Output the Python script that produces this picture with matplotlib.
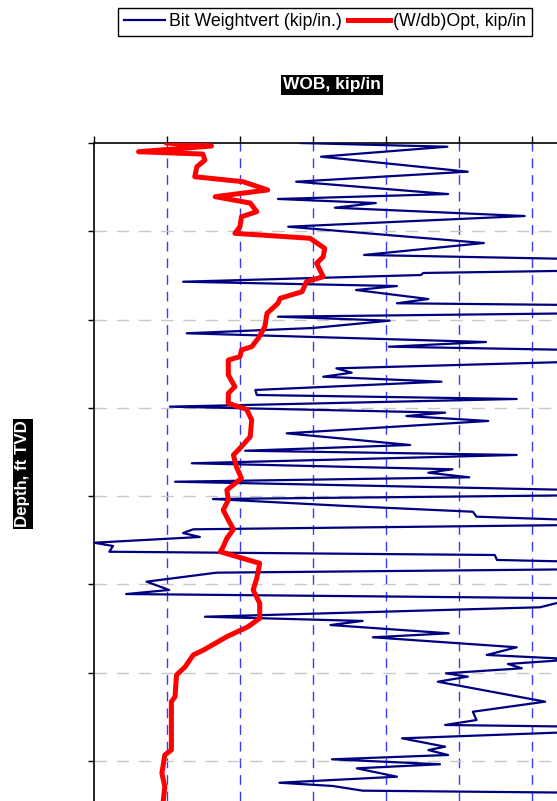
import matplotlib.pyplot as plt

plt.rcParams['font.family'] = ['Liberation Sans', 'DejaVu Sans']

# Bit weight (vertical), kip/in. vs depth, ft TVD
bit_depth = [0, 42, 155, 325, 438, 578, 634, 680, 733, 827, 948, 1133, 1268, 1314,
             1446, 1472, 1495, 1571, 1620, 1665, 1767, 1815, 1835, 1929, 1967, 2012,
             2095, 2155, 2254, 2307, 2344, 2477, 2552, 2601, 2647, 2703, 2797, 2854,
             2899, 2986, 3054, 3092, 3148, 3288, 3420, 3485, 3533, 3627, 3695, 3734,
             3786, 3836, 3930, 3990, 4032, 4111, 4176, 4232, 4270, 4326, 4375, 4417,
             4462, 4527, 4564, 4629, 4666, 4722, 4742, 4828, 4866, 4968, 5062, 5108,
             5156, 5258, 5365, 5413, 5459, 5553, 5598, 5711, 5798, 5847, 5900, 5949,
             6006, 6044, 6101, 6327, 6441, 6535, 6591, 6610, 6670, 6742, 6837, 6875,
             6931, 6980, 7036, 7082, 7177, 7245, 7282, 7335, 7358, 7500]
bit_wob = [2.82, 4.84, 3.11, 5.12, 2.77, 4.85, 2.52, 3.86, 3.30, 5.90, 2.66, 5.34, 3.70, 6.6,
           6.6, 4.51, 4.48, 1.22, 4.15, 3.59, 4.58, 4.15, 6.6, 6.6, 2.52, 4.05,
           3.00, 1.27, 5.37, 4.04, 6.6, 6.6, 3.32, 3.53, 3.14, 4.76, 2.21, 2.23,
           5.79, 1.04, 4.81, 4.28, 5.40, 2.64, 4.33, 2.07, 5.79, 1.34, 4.91, 4.58,
           5.14, 1.11, 6.6, 6.6, 1.63, 3.46, 5.19, 5.24, 6.6, 6.6, 1.36, 1.22,
           1.45, 0.0, 0.26, 0.21, 5.49, 5.52, 6.6, 6.6, 1.68, 0.72, 1.03, 0.44,
           6.6, 6.11, 1.52, 3.68, 3.24, 4.86, 3.82, 5.79, 5.38, 6.6, 5.67, 5.86,
           4.82, 5.12, 4.71, 6.18, 5.19, 5.24, 4.81, 6.6, 6.6, 4.22, 4.81, 4.58,
           4.85, 3.26, 4.74, 3.60, 4.15, 2.54, 3.27, 3.68, 6.6, 6.6]

# optimum (W/db), kip/in vs depth
opt_depth = [0, 34, 99, 125, 193, 268, 382, 438, 532, 608, 680, 778, 835, 948, 1023,
             1079, 1193, 1288, 1362, 1514, 1571, 1684, 1759, 1815, 1929, 2080, 2212,
             2307, 2344, 2420, 2458, 2627, 2760, 2835, 2948, 3016, 3137, 3326, 3439,
             3533, 3666, 3797, 3930, 4043, 4156, 4270, 4375, 4477, 4572, 4629, 4760,
             4930, 5062, 5213, 5383, 5478, 5591, 5742, 5798, 5931, 6025, 6271, 6327,
             6874, 6931, 7138, 7290, 7441]
opt_wob = [1.00, 1.61, 0.61, 1.49, 1.52, 1.41, 1.38, 2.04, 2.38, 1.66, 2.14, 2.23, 2.02, 2.00, 1.93,
           2.96, 3.16, 3.14, 3.05, 3.14, 2.91, 2.85, 2.55, 2.52, 2.37, 2.34, 2.25,
           2.16, 2.02, 2.00, 1.84, 1.84, 1.93, 1.84, 1.84, 2.09, 2.16, 2.14, 2.02,
           1.91, 1.95, 2.02, 1.82, 1.84, 1.77, 1.84, 1.91, 1.82, 1.77, 1.73, 2.27,
           2.23, 2.18, 2.27, 2.27, 2.11, 1.82, 1.50, 1.36, 1.25, 1.13, 1.11, 1.06,
           1.06, 0.97, 0.93, 0.97, 0.95]

wob_ticks = [0, 1, 2, 3, 4, 5, 6]
depth_ticks = [0, 1000, 2000, 3000, 4000, 5000, 6000, 7000]

fig = plt.figure(figsize=(5.57, 8.01), dpi=100)
ax = fig.add_axes([94 / 557, 0.0, 1 - 94 / 557, 1 - 143 / 801])

ax.plot(bit_wob, bit_depth, color='#000080', lw=1.6, label='Bit Weightvert (kip/in.)', zorder=3)
ax.plot(opt_wob, opt_depth, color='#ff0000', lw=3.6, label='(W/db)Opt, kip/in', zorder=4)

ax.set_xlim(0, 463 / 73)
ax.set_ylim(7452, 0)

ax.xaxis.tick_top()
ax.set_xticks(wob_ticks)
ax.set_yticks(depth_ticks)
ax.tick_params(axis='x', direction='out', length=5, width=1, labeltop=False, labelbottom=False)
ax.tick_params(axis='y', direction='out', length=4.5, width=1, labelleft=False)

for x in wob_ticks[1:]:
    ax.axvline(x, color='#3a3aff', lw=1, dashes=(7, 5), zorder=1)
for d in depth_ticks[1:]:
    ax.axhline(d, color='#c8c8c8', lw=1, dashes=(9, 7), zorder=1)

ax.spines['right'].set_visible(False)
ax.spines['bottom'].set_visible(False)
ax.spines['top'].set_linewidth(1.2)
ax.spines['left'].set_linewidth(1.2)

fig.legend(loc='center', bbox_to_anchor=(325 / 557, 1 - 22 / 801), ncol=2,
           fontsize=12.8, frameon=True, fancybox=False, edgecolor='black',
           framealpha=1, handlelength=2.35, handletextpad=0.17, columnspacing=0.4,
           borderpad=0.32, borderaxespad=0)

fig.text(332 / 557, 1 - 85 / 801, 'WOB, kip/in', color='white', fontsize=12.5,
         fontweight='bold', ha='center', va='center',
         bbox=dict(facecolor='black', edgecolor='none', pad=1.5))
fig.text(23 / 557, 1 - 474 / 801, 'Depth, ft TVD', color='white', fontsize=12.2,
         fontweight='bold', ha='center', va='center', rotation=90,
         bbox=dict(facecolor='black', edgecolor='none', pad=1.5))

fig.savefig('out.png', dpi=100)
